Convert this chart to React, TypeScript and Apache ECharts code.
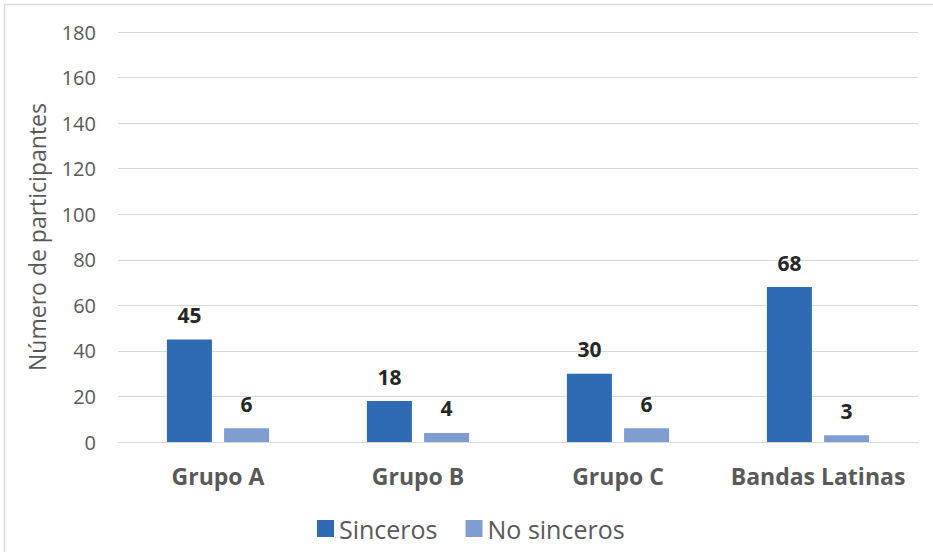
import React, { useEffect, useRef } from "react";
import * as echarts from "echarts";

const categories = ["Grupo A", "Grupo B", "Grupo C", "Bandas Latinas"];
const sinceros = [45, 18, 30, 68];
const noSinceros = [6, 4, 6, 3];
const yTicks = { min: 0, max: 180, interval: 20 };

const FONT = "'Open Sans', sans-serif";

export default function App() {
  const ref = useRef<HTMLDivElement>(null);
  useEffect(() => {
    if (!ref.current) return;
    const chart = echarts.init(ref.current, null, { renderer: "svg" });
    const labelStyle = {
      show: true,
      position: "top" as const,
      distance: 14,
      fontFamily: FONT,
      fontSize: 21,
      fontWeight: "bold" as const,
      color: "#262626",
    };
    chart.setOption({
      animation: false,
      backgroundColor: "#ffffff",
      textStyle: { fontFamily: FONT },
      graphic: [
        {
          type: "rect",
          shape: { x: 4.5, y: 4.5, width: 940, height: 560 },
          style: { fill: "none", stroke: "#D9D9D9", lineWidth: 1.5 },
          silent: true,
        },
      ],
      grid: { left: 118, right: 15, top: 32, bottom: 110, containLabel: false },
      legend: {
        left: 312,
        top: 511,
        itemWidth: 17,
        itemHeight: 17,
        itemGap: 28,
        icon: "rect",
        textStyle: { fontFamily: FONT, fontSize: 25, color: "#595959" },
        data: ["Sinceros", "No sinceros"],
      },
      xAxis: {
        type: "category",
        data: categories,
        axisLine: { show: true, lineStyle: { color: "#D9D9D9", width: 1 } },
        axisTick: { show: false },
        axisLabel: {
          interval: 0,
          margin: 22,
          fontFamily: FONT,
          fontSize: 23,
          fontWeight: "bold",
          color: "#595959",
        },
      },
      yAxis: {
        type: "value",
        min: yTicks.min,
        max: yTicks.max,
        interval: yTicks.interval,
        name: "Número de participantes",
        nameLocation: "middle",
        nameGap: 70,
        nameTextStyle: { fontFamily: FONT, fontSize: 23, color: "#595959" },
        axisLine: { show: false },
        axisTick: { show: false },
        axisLabel: { margin: 22, fontFamily: FONT, fontSize: 20, color: "#595959" },
        splitLine: { lineStyle: { color: "#D9D9D9", width: 1 } },
      },
      series: [
        {
          name: "Sinceros",
          type: "bar",
          data: sinceros,
          barWidth: 45,
          barGap: "27%",
          itemStyle: { color: "#2F6AB5" },
          label: labelStyle,
        },
        {
          name: "No sinceros",
          type: "bar",
          data: noSinceros,
          barWidth: 45,
          barGap: "27%",
          itemStyle: { color: "#809DD1" },
          label: labelStyle,
        },
      ],
    });
    return () => chart.dispose();
  }, []);
  return (
    <div
      ref={ref}
      style={{ position: "fixed", left: 0, top: 0, width: 933, height: 552 }}
    />
  );
}
